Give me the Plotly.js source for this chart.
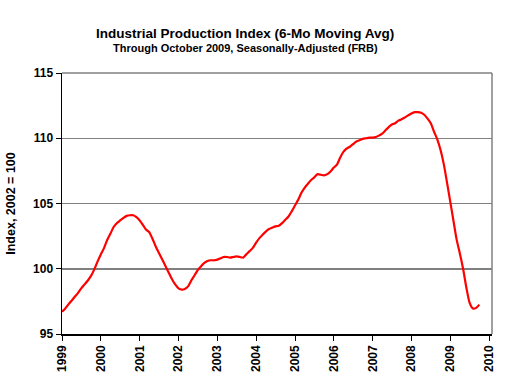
<!DOCTYPE html>
<html>
<head>
<meta charset="utf-8">
<script src="https://cdn.plot.ly/plotly-3.0.1.min.js"></script>
<style>html,body{margin:0;padding:0;background:#fff;}#chart{width:507px;height:382px;}</style>
</head>
<body>
<div id="chart"></div>
<script>
// Monthly 6-month moving average, Jan 1999 .. Oct 2009
const startYear = 1999;
const v1999 = [96.7, 96.95, 97.25, 97.55, 97.85, 98.15, 98.5, 98.8, 99.1, 99.45, 99.95, 100.55];
const v2000 = [101.1, 101.6, 102.2, 102.7, 103.2, 103.5, 103.7, 103.9, 104.05, 104.1, 104.1, 103.95];
const v2001 = [103.7, 103.35, 103.0, 102.8, 102.3, 101.7, 101.2, 100.7, 100.2, 99.7, 99.2, 98.8];
const v2002 = [98.5, 98.4, 98.45, 98.65, 99.1, 99.5, 99.9, 100.2, 100.45, 100.6, 100.65, 100.65];
const v2003 = [100.7, 100.8, 100.9, 100.9, 100.85, 100.9, 100.95, 100.9, 100.85, 101.1, 101.35, 101.6];
const v2004 = [102.0, 102.35, 102.6, 102.85, 103.05, 103.15, 103.25, 103.3, 103.5, 103.75, 104.0, 104.4];
const v2005 = [104.85, 105.3, 105.8, 106.2, 106.5, 106.8, 107.0, 107.25, 107.2, 107.15, 107.25, 107.45];
const v2006 = [107.75, 108.0, 108.5, 108.95, 109.2, 109.35, 109.55, 109.75, 109.85, 109.95, 110.0, 110.05];
const v2007 = [110.05, 110.1, 110.2, 110.35, 110.6, 110.85, 111.05, 111.15, 111.35, 111.45, 111.6, 111.75];
const v2008 = [111.9, 112.0, 112.0, 111.95, 111.8, 111.5, 111.15, 110.5, 109.9, 109.1, 108.0, 106.6];
const v2009 = [105.1, 103.6, 102.25, 101.15, 100.0, 98.55, 97.4, 96.95, 97.0, 97.25];

const yearly = [v1999, v2000, v2001, v2002, v2003, v2004, v2005, v2006, v2007, v2008, v2009];
const tickYears = ['1999','2000','2001','2002','2003','2004','2005','2006','2007','2008','2009','2010'];

const dates = [], values = [];
yearly.forEach((arr, yi) => {
  arr.forEach((v, mi) => {
    const mm = String(mi + 1).padStart(2, '0');
    dates.push((startYear + yi) + '-' + mm + '-01');
    values.push(v);
  });
});

const font = "'Liberation Sans', Arial, sans-serif";

const trace = {
  x: dates, y: values, type: 'scatter', mode: 'lines',
  line: {color: '#FF0000', width: 2.2, shape: 'spline', smoothing: 0.6},
  hoverinfo: 'skip'
};

const layout = {
  width: 507, height: 382,
  margin: {l: 62, r: 15, t: 73, b: 48},
  paper_bgcolor: '#ffffff', plot_bgcolor: '#ffffff',
  showlegend: false,
  font: {family: font, color: '#000'},
  xaxis: {
    type: 'date',
    range: ['1999-01-01', '2010-01-28'],
    tickmode: 'array',
    tickvals: tickYears.map(y => y + '-01-01'),
    ticktext: tickYears.map(y => '<b>' + y + '</b>'),
    tickangle: -90,
    ticks: 'outside', ticklen: 5, tickcolor: '#000', tickwidth: 1,
    tickfont: {family: font, size: 12, color: '#000'},
    showgrid: false, zeroline: false,
    showline: true, linecolor: '#000', linewidth: 1.5,
    mirror: false, fixedrange: true
  },
  yaxis: {
    range: [95, 115],
    tickmode: 'array',
    tickvals: [95, 100, 105, 110, 115],
    ticktext: ['<b>95</b>', '<b>100</b>', '<b>105</b>', '<b>110</b>', '<b>115</b>'],
    ticks: 'outside', ticklen: 5, tickcolor: '#000', tickwidth: 1,
    tickfont: {family: font, size: 12, color: '#000'},
    showgrid: true, gridcolor: '#808080', gridwidth: 1.5,
    zeroline: false,
    showline: true, linecolor: '#000', linewidth: 1.5,
    title: {text: '<b>Index, 2002 = 100</b>', font: {family: font, size: 12.5, color: '#000'}, standoff: 14},
    fixedrange: true
  },
  shapes: [
    {type: 'line', xref: 'paper', yref: 'paper', x0: 0, x1: 1, y0: 1, y1: 1, line: {color: '#808080', width: 1.5}},
    {type: 'line', xref: 'paper', yref: 'paper', x0: 1, x1: 1, y0: 0, y1: 1, line: {color: '#808080', width: 1.5}}
  ],
  annotations: [
    {text: '<b>Industrial Production Index (6-Mo Moving Avg)</b>', xref: 'paper', yref: 'paper',
     x: 0.4256, y: 1.153, xanchor: 'center', yanchor: 'middle', showarrow: false,
     font: {family: font, size: 13.5, color: '#000'}},
    {text: '<b>Through October 2009, Seasonally-Adjusted (FRB)</b>', xref: 'paper', yref: 'paper',
     x: 0.4256, y: 1.096, xanchor: 'center', yanchor: 'middle', showarrow: false,
     font: {family: font, size: 11, color: '#000'}}
  ]
};

Plotly.newPlot('chart', [trace], layout, {displayModeBar: false, staticPlot: true});
</script>
</body>
</html>
